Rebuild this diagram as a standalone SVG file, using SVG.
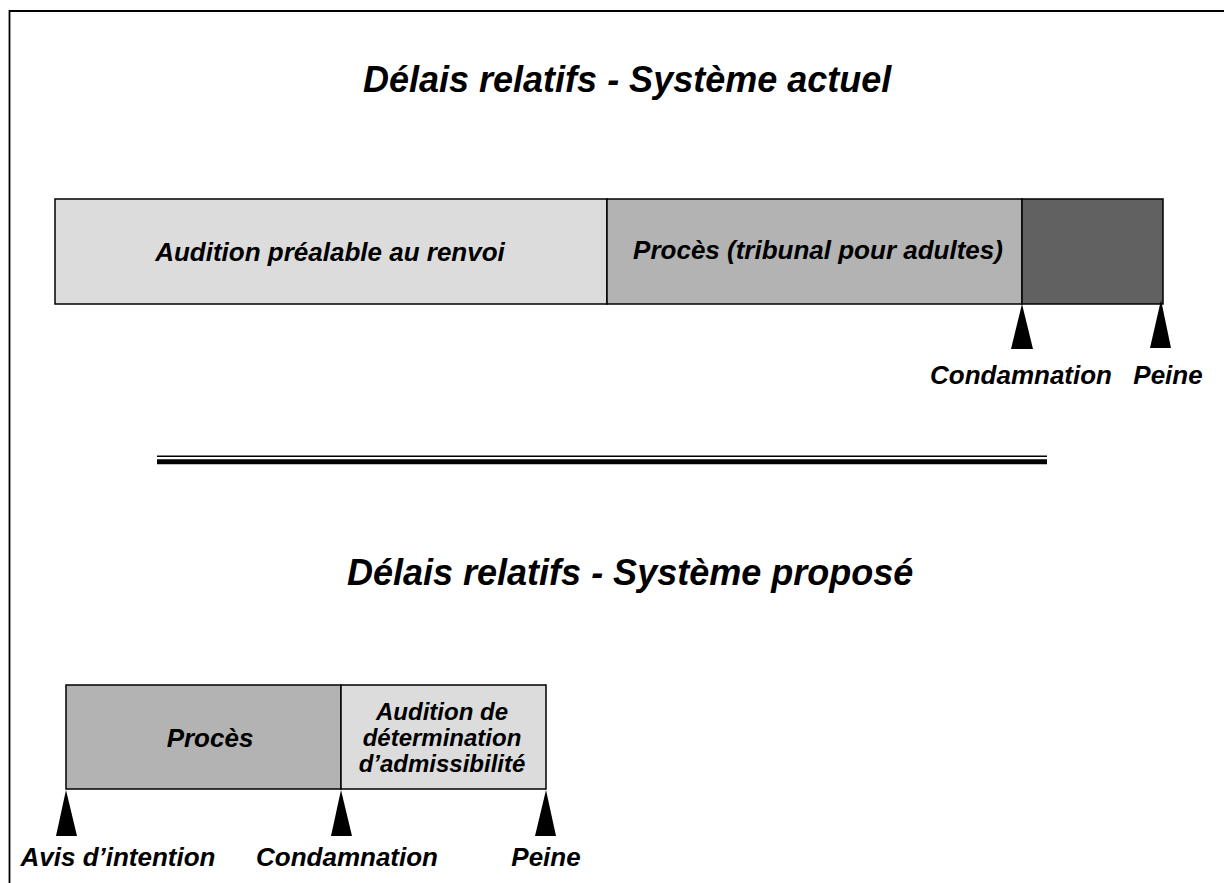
<svg xmlns="http://www.w3.org/2000/svg" width="1224" height="883" viewBox="0 0 1224 883">
<style>
.t{font-family:"Liberation Sans",Arial,sans-serif;font-weight:bold;font-style:italic;fill:#000}
.title{font-size:36px}
.lbl{font-size:26px}
.sm{font-size:24px}
.seg{stroke:#000;stroke-width:1.5}
.light{fill:#dcdcdc}
.mid{fill:#b3b3b3}
.dark{fill:#616161}
.tri{fill:#000}
</style>
<rect width="1224" height="883" fill="#fff"/>
<g id="frame">
<path d="M9.5 883 V11 H1224" fill="none" stroke="#000" stroke-width="1.8"/>
</g>
<g id="title1"><text class="t title" x="363" y="92">Délais relatifs - Système actuel</text></g>
<g id="seg-audition-renvoi">
<rect class="seg light" x="55" y="199" width="552" height="105"/>
<text class="t lbl" x="330" y="261" text-anchor="middle">Audition préalable au renvoi</text>
</g>
<g id="seg-proces-adultes">
<rect class="seg mid" x="607" y="199" width="415" height="105"/>
<text class="t lbl" x="818" y="259" text-anchor="middle">Procès (tribunal pour adultes)</text>
</g>
<g id="seg-peine-actuel">
<rect class="seg dark" x="1022" y="199" width="141" height="105"/>
</g>
<g id="marker-condamnation1">
<polygon class="tri" points="1022,304 1011,349 1033,349"/>
<text class="t lbl" x="1021" y="384" text-anchor="middle">Condamnation</text>
</g>
<g id="marker-peine1">
<polygon class="tri" points="1161,300 1150,348 1171,348"/>
<text class="t lbl" x="1168" y="384" text-anchor="middle">Peine</text>
</g>
<g id="separator">
<line x1="157" y1="456.3" x2="1047" y2="456.3" stroke="#000" stroke-width="1.5"/>
<line x1="157" y1="461.8" x2="1047" y2="461.8" stroke="#000" stroke-width="5"/>
</g>
<g id="title2"><text class="t title" x="347" y="585">Délais relatifs - Système proposé</text></g>
<g id="seg-proces">
<rect class="seg mid" x="66" y="685" width="275" height="104"/>
<text class="t lbl" x="210" y="747" text-anchor="middle">Procès</text>
</g>
<g id="seg-admissibilite">
<rect class="seg light" x="341" y="685" width="205" height="104"/>
<text class="t sm" x="442" y="720" text-anchor="middle">Audition de</text>
<text class="t sm" x="442" y="746" text-anchor="middle">détermination</text>
<text class="t sm" x="442" y="772" text-anchor="middle">d’admissibilité</text>
</g>
<g id="marker-avis">
<polygon class="tri" points="66,790 56,836 77,836"/>
<text class="t lbl" x="118" y="866" text-anchor="middle">Avis d’intention</text>
</g>
<g id="marker-condamnation2">
<polygon class="tri" points="341,790 331,836 352,836"/>
<text class="t lbl" x="347" y="866" text-anchor="middle">Condamnation</text>
</g>
<g id="marker-peine2">
<polygon class="tri" points="546,790 535,836 556,836"/>
<text class="t lbl" x="546" y="866" text-anchor="middle">Peine</text>
</g>
</svg>
